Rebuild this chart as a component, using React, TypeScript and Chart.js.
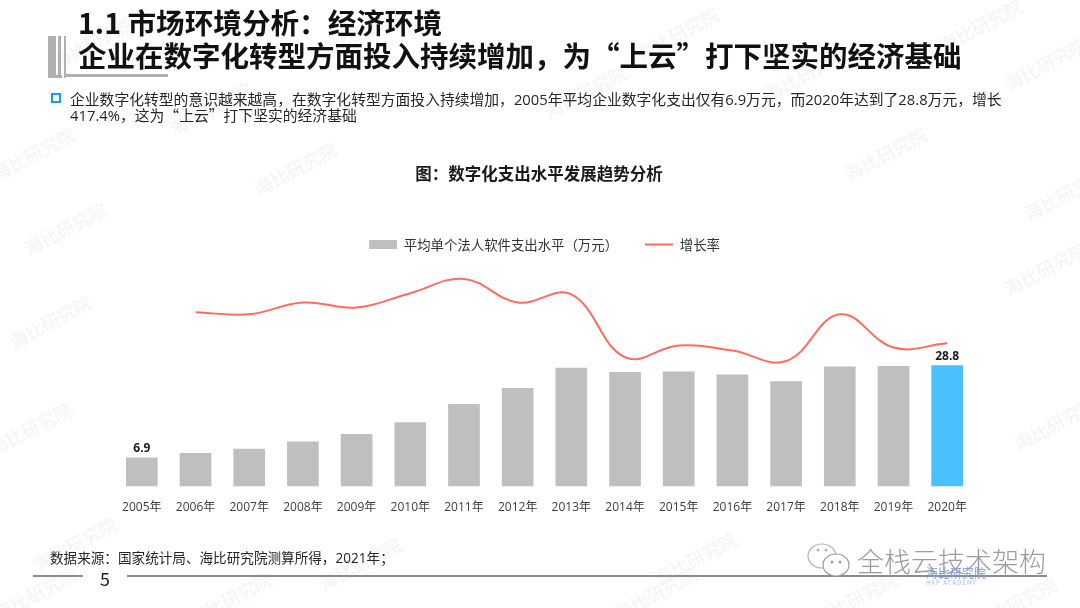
import React, { useEffect, useRef } from "react";
import { Chart, registerables } from "chart.js";

Chart.register(...registerables);

const years = ["2005年","2006年","2007年","2008年","2009年","2010年","2011年","2012年","2013年","2014年","2015年","2016年","2017年","2018年","2019年","2020年"];
const spending = [6.9,7.95,9.0,10.7,12.5,15.3,19.6,23.4,28.2,27.2,27.3,26.6,25.0,28.5,28.6,28.8];
const growth = [null,41.4,40.9,43.7,42.5,45.9,49.3,43.7,45.6,30.7,33.5,32.3,29.8,40.9,33.0,34.0];
const labelledYears = ["2005年","2020年"];
const barColors = ["#BFBFBF","#BFBFBF","#BFBFBF","#BFBFBF","#BFBFBF","#BFBFBF","#BFBFBF","#BFBFBF","#BFBFBF","#BFBFBF","#BFBFBF","#BFBFBF","#BFBFBF","#BFBFBF","#BFBFBF","#4BBFFF"];
const marks = [[88,38],[352,30],[672,30],[975,22],[205,105],[580,88],[800,70],[1040,60],[28,150],[290,165],[880,150],[1060,190],[45,318],[60,225],[1040,265],[25,425],[1050,420],[70,540],[30,590],[355,560],[650,590],[690,555],[1010,600],[225,595],[850,595]];

const FONT = '"Noto Sans CJK SC", "Noto Sans", sans-serif';
const NUMFONT = '"Open Sans", "Noto Sans CJK SC", sans-serif';

const valueLabels = {
  id: "valueLabels",
  afterLayout(chart: any) {
    chart.titleBlock.left -= 11;
  },
  afterDatasetsDraw(chart: any) {
    const meta = chart.getDatasetMeta(0);
    const { ctx } = chart;
    ctx.save();
    ctx.font = "bold 12px " + NUMFONT;
    ctx.fillStyle = "#1a1a1a";
    ctx.textAlign = "center";
    ctx.textBaseline = "bottom";
    meta.data.forEach((bar: any, i: number) => {
      if (labelledYears.includes(years[i])) ctx.fillText(String(spending[i]), bar.x, bar.y - 3);
    });
    ctx.restore();
  },
};

const abs = (left: number, top: number, extra: React.CSSProperties = {}): React.CSSProperties => ({
  position: "absolute", left, top, whiteSpace: "nowrap", fontFamily: FONT, ...extra,
});

export default function App() {
  const ref = useRef<HTMLCanvasElement>(null);
  useEffect(() => {
    const chart = new Chart(ref.current!, {
      type: "bar",
      data: {
        labels: years,
        datasets: [
          { type: "bar", label: "平均单个法人软件支出水平（万元）", data: spending, backgroundColor: barColors, barPercentage: 0.59, categoryPercentage: 1, yAxisID: "y", order: 2, pointStyle: "rect" },
          { type: "line", label: "增长率", data: growth, borderColor: "#FF6B5F", backgroundColor: "#FF6B5F", borderWidth: 2, pointRadius: 0, tension: 0.4, yAxisID: "y1", order: 1, clip: false, pointStyle: "line", spanGaps: false },
        ],
      } as any,
      options: {
        animation: false,
        responsive: false,
        layout: { padding: { left: 115, right: 106, top: 164, bottom: 87 } },
        plugins: {
          title: { display: true, text: "图：数字化支出水平发展趋势分析", color: "#1a1a1a", font: { family: FONT, size: 16.5, weight: "bold" }, padding: { top: 0, bottom: 27 } },
          legend: {
            display: true, position: "top",
            labels: { usePointStyle: true, pointStyleWidth: 28, boxHeight: 9, color: "#333333", font: { family: FONT, size: 13.4 }, padding: 27, sort: (a: any, b: any) => a.datasetIndex - b.datasetIndex },
          },
          tooltip: { enabled: false },
        },
        scales: {
          x: { grid: { display: false }, border: { display: false }, ticks: { color: "#404040", font: { family: NUMFONT, size: 12 }, padding: 6, maxRotation: 0, autoSkip: false } },
          y: { display: false, min: 0, max: 53.5 },
          y1: { display: false, min: 0, max: 53.5 },
        },
      } as any,
      plugins: [valueLabels],
    });
    return () => chart.destroy();
  }, []);

  return (
    <div style={{ position: "absolute", left: 0, top: 0, width: 1080, height: 608, background: "#fff", overflow: "hidden" }}>
      {marks.map(([x, y], i) => (
        <span key={i} style={abs(x - 40, y - 10, { fontSize: 18, color: "#F1F4F9", transform: "rotate(-28deg)" })}>海比研究院</span>
      ))}
      <canvas ref={ref} width={1080} height={608} style={{ position: "absolute", left: 0, top: 0 }} />
      <div style={abs(48, 36, { width: 8, height: 42, background: "#B0B0B0" })} />
      <div style={abs(58, 36, { width: 3, height: 42, background: "#B0B0B0" })} />
      <div style={abs(64, 36, { width: 2, height: 42, background: "#B0B0B0" })} />
      <div style={abs(48, 75, { width: 14, height: 3, background: "#B0B0B0" })} />
      <div style={abs(64, 74, { width: 104, height: 3, background: "#B0B0B0" })} />
      <div style={abs(78, 4, { fontSize: 28.6, fontWeight: 700, color: "#111", lineHeight: "36px" })}>1.1 市场环境分析：经济环境</div>
      <div style={abs(78, 37, { fontSize: 28.5, fontWeight: 700, color: "#111", lineHeight: "36px" })}>企业在数字化转型方面投入持续增加，为“上云”打下坚实的经济基础</div>
      <div style={abs(51, 93, { width: 6, height: 6, border: "2px solid #1E9BE8" })} />
      <div style={abs(70, 91, { fontSize: 14.8, color: "#262626", lineHeight: "16px", fontFamily: NUMFONT })}>企业数字化转型的意识越来越高，在数字化转型方面投入持续增加，2005年平均企业数字化支出仅有6.9万元，而2020年达到了28.8万元，增长</div>
      <div style={abs(70, 107, { fontSize: 14.8, color: "#262626", lineHeight: "16px", fontFamily: NUMFONT })}>417.4%，这为<span style={{ fontFamily: FONT }}>“上云”</span>打下坚实的经济基础</div>
      <div style={abs(50, 550, { fontSize: 13.6, color: "#262626", lineHeight: "16px", fontFamily: NUMFONT })}>数据来源：国家统计局、海比研究院测算所得，2021年；</div>
      <div style={abs(33, 575, { width: 50, height: 1.5, background: "#8c8c8c" })} />
      <div style={abs(127, 575, { width: 920, height: 1.5, background: "#8c8c8c" })} />
      <div style={abs(100, 566, { fontSize: 18, color: "#222", lineHeight: "24px" })}>5</div>
      <svg style={{ position: "absolute", left: 806, top: 541 }} width="46" height="40" viewBox="0 0 46 40">
        <ellipse cx="16" cy="15" rx="14" ry="12" fill="#fff" stroke="#b5b5b5" strokeWidth="1.2" />
        <ellipse cx="30" cy="24" rx="13" ry="11" fill="#fff" stroke="#9a9a9a" strokeWidth="1.2" />
        <circle cx="12" cy="9" r="1.5" fill="#b5b5b5" /><circle cx="20" cy="9" r="1.5" fill="#b5b5b5" />
        <circle cx="26" cy="21" r="1.5" fill="#9a9a9a" /><circle cx="34" cy="21" r="1.5" fill="#9a9a9a" />
      </svg>
      <div style={abs(857, 544, { fontSize: 27, color: "#9c9c9c", lineHeight: "34px", fontWeight: 300 })}>全栈云技术架构</div>
      <div style={abs(926, 566, { fontSize: 12, color: "#7B9CDB", lineHeight: "14px" })}>海比研究院</div>
      <div style={abs(926, 579, { fontSize: 6, color: "#A9BCE3", lineHeight: "8px", letterSpacing: 1 })}>HAP ACADEMY</div>
    </div>
  );
}
